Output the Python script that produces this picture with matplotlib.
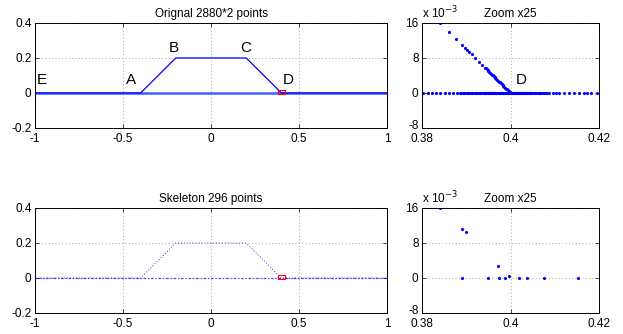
import numpy as np
import matplotlib.pyplot as plt
from matplotlib.patches import Rectangle
from matplotlib.ticker import FuncFormatter
from matplotlib.transforms import ScaledTranslation

plt.rcParams['font.family'] = ['Liberation Sans', 'DejaVu Sans']
plt.rcParams['axes.unicode_minus'] = True

# trapezoid outline E-A-B-C-D-end and baseline
curve_x = [-1.0, -0.4, -0.2, 0.2, 0.4, 1.0]
curve_y = [0.0, 0.0, 0.2, 0.2, 0.0, 0.0]
base_x = [-1.0, 1.0]
base_y = [0.0, 0.0]

labels = ['E', 'A', 'B', 'C', 'D']
label_x = [-0.96, -0.455, -0.214, 0.199, 0.441]
label_y = [0.074, 0.074, 0.259, 0.259, 0.074]

# zoomed original points near D (y in 1e-3 units)
zslope_x = [0.3841, 0.3860, 0.3876, 0.3890, 0.3897, 0.3902, 0.3907, 0.3912,
            0.3920, 0.3929, 0.3936, 0.3942, 0.3944, 0.3946, 0.3948, 0.3950,
            0.3952, 0.3954, 0.3956, 0.3958, 0.3960, 0.3962, 0.3964, 0.3966,
            0.3968, 0.3970, 0.3972, 0.3974, 0.3976, 0.3978, 0.3980, 0.3982,
            0.3984, 0.3986, 0.3988, 0.3990, 0.3992, 0.3994, 0.3996, 0.3998,
            0.4000]
zslope_y = [15.9, 14.0, 12.4, 11.0, 10.3, 9.8, 9.3, 8.8,
            8.0, 7.1, 6.4, 5.8, 5.6, 5.4, 5.2, 5.0,
            4.8, 4.6, 4.4, 4.2, 4.0, 3.8, 3.6, 3.4,
            3.2, 3.0, 2.8, 2.6, 2.4, 2.2, 2.0, 1.8,
            1.6, 1.4, 1.2, 1.0, 0.8, 0.6, 0.4, 0.2,
            0.0]
zbase_x = [0.3803, 0.3814, 0.3823, 0.3832, 0.3841, 0.3852, 0.3862, 0.3871,
           0.3878, 0.3886, 0.3889, 0.3892, 0.3895, 0.3898, 0.3901, 0.3904,
           0.3907, 0.3910, 0.3913, 0.3916, 0.3919, 0.3922, 0.3925, 0.3928,
           0.3931, 0.3934, 0.3937, 0.3939, 0.3941, 0.3943, 0.3945, 0.3947,
           0.3949, 0.3951, 0.3953, 0.3955, 0.3957, 0.3959, 0.3961, 0.3963,
           0.3965, 0.3967, 0.3969, 0.3971, 0.3973, 0.3975, 0.3977, 0.3979,
           0.3981, 0.3983, 0.3985, 0.3987, 0.3989, 0.3991, 0.3993, 0.3995,
           0.3997, 0.3999, 0.4001, 0.4003, 0.4005, 0.4007, 0.4009, 0.4011,
           0.4013, 0.4015, 0.4017, 0.4019, 0.4021, 0.4023, 0.4025, 0.4027,
           0.4029, 0.4031, 0.4033, 0.4035, 0.4037, 0.4039, 0.4041, 0.4043,
           0.4046, 0.4049, 0.4052, 0.4055, 0.4058, 0.4061, 0.4064, 0.4067,
           0.4070, 0.4073, 0.4076, 0.4079, 0.4082, 0.4088, 0.4096, 0.4103,
           0.4109, 0.4121, 0.4132, 0.4143, 0.4155, 0.4166, 0.4173, 0.4181,
           0.4196]
zbase_y = [0.0] * len(zbase_x)

# skeleton points near D (y in 1e-3 units)
skel_x = [0.3841, 0.3890, 0.3899, 0.3971, 0.3997,
          0.3890, 0.3949, 0.3974, 0.3988, 0.4019, 0.4037, 0.4076, 0.4152]
skel_y = [16.0, 11.1, 10.4, 2.8, 0.45,
          0.0, 0.0, 0.0, 0.0, 0.0, 0.0, 0.0, 0.0]

BLUE = '#0000ff'
TICK_FS = 8.5
TITLE_FS = 8.5
LETTER_FS = 11
fig = plt.figure(figsize=(6.23, 3.34), dpi=100)

def style(ax):
    ax.tick_params(direction='in', length=3, width=0.5, labelsize=TICK_FS,
                   top=True, right=True, pad=2.5)
    ax.tick_params(axis='x', pad=3.5)
    ax.grid(True, linestyle=(0, (1, 3)), color='0.55', linewidth=0.6)
    for s in ax.spines.values():
        s.set_linewidth(0.7)

def main_panel(rect, title, skeleton=False):
    ax = fig.add_axes(rect)
    if skeleton:
        ax.plot(base_x, base_y, color=BLUE, lw=0.9, ls=(0, (1, 1.5, 2, 1.5)), alpha=0.7)
        ax.plot(curve_x, curve_y, color=BLUE, lw=0.7, ls=(0, (1, 2)), alpha=0.8)
    else:
        ax.plot(base_x, base_y, color='#4060ff', lw=1.8)
        ax.plot(curve_x, curve_y, color=BLUE, lw=0.9)
        for t, x, y in zip(labels, label_x, label_y):
            ax.text(x, y, t, fontsize=LETTER_FS, ha='center', va='center')
    ax.add_patch(Rectangle((0.38, -0.008), 0.04, 0.024, fill=False,
                           edgecolor='red', lw=0.8, zorder=5))
    ax.set_xlim(-1, 1)
    ax.set_ylim(-0.2, 0.4)
    ax.set_xticks([-1, -0.5, 0, 0.5, 1])
    ax.set_yticks([-0.2, 0, 0.2, 0.4])
    ax.xaxis.set_major_formatter(FuncFormatter(lambda v, p: '%g' % v if v else '0'))
    ax.yaxis.set_major_formatter(FuncFormatter(lambda v, p: '%g' % v if abs(v) > 1e-9 else '0'))
    ax.set_title(title, fontsize=TITLE_FS, pad=4)
    style(ax)
    return ax

def zoom_panel(rect, xs, ys, show_d=False):
    ax = fig.add_axes(rect)
    ax.plot(xs, ys, '.', color=BLUE, ms=2.5)
    if show_d:
        ax.text(0.4025, 2.97, 'D', fontsize=LETTER_FS, ha='center', va='center')
    ax.set_xlim(0.38, 0.42)
    ax.set_ylim(-8, 16)
    ax.set_xticks([0.38, 0.4, 0.42])
    ax.set_yticks([-8, 0, 8, 16])
    ax.xaxis.set_major_formatter(FuncFormatter(lambda v, p: '%g' % v))
    ax.yaxis.set_major_formatter(FuncFormatter(lambda v, p: '%d' % round(v)))
    ax.set_title('Zoom x25', fontsize=TITLE_FS, pad=4)
    ax.text(0.0, 1.02, r'x 10$^{-3}$', transform=ax.transAxes, fontsize=TITLE_FS,
            ha='left', va='bottom')
    style(ax)
    # nudge the bottom "-8" label up a little so it clears "0.38"
    lab = ax.yaxis.get_major_ticks()[0].label1
    lab.set_transform(lab.get_transform() +
                      ScaledTranslation(0, 2.5 / 72, fig.dpi_scale_trans))
    return ax

main_panel([0.0562, 0.6168, 0.565, 0.3144], 'Orignal 2880*2 points')
zoom_panel([0.6774, 0.6168, 0.2841, 0.3144],
           zslope_x + zbase_x, zslope_y + zbase_y, show_d=True)
main_panel([0.0562, 0.0629, 0.565, 0.3144], 'Skeleton 296 points', skeleton=True)
zoom_panel([0.6774, 0.0629, 0.2841, 0.3144], skel_x, skel_y)

fig.savefig('out.png', dpi=100)
